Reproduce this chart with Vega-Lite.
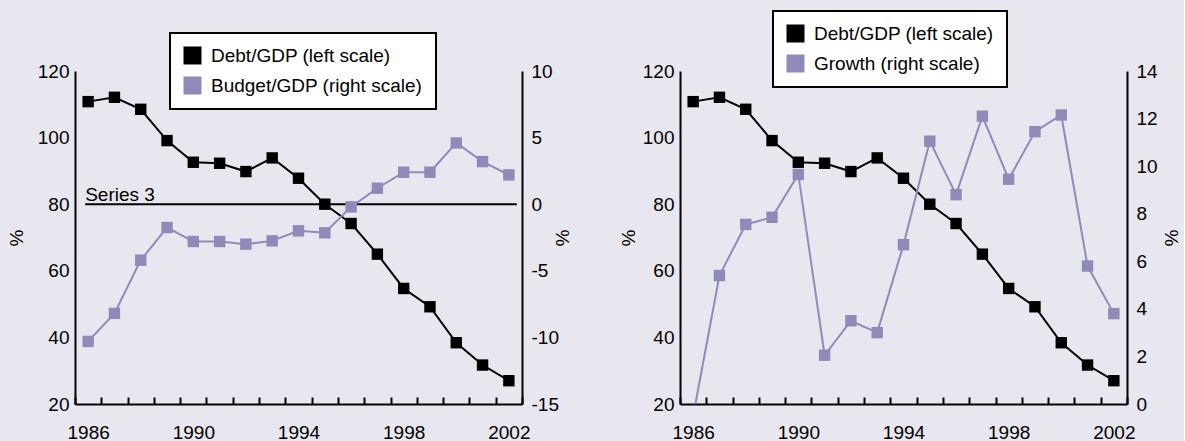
{
  "$schema": "https://vega.github.io/schema/vega-lite/v6.json",
  "background": "#e8e6ee",
  "padding": {"left": 7, "top": 10, "right": 4, "bottom": 0},
  "config": {
    "font": "Liberation Sans",
    "view": {"stroke": null},
    "axis": {
      "labelFont": "Liberation Sans", "labelFontSize": 19, "labelColor": "#000",
      "titleFont": "Liberation Sans", "titleFontSize": 19, "titleFontWeight": "normal", "titleColor": "#000",
      "domainColor": "#000", "domainWidth": 2, "tickColor": "#000", "tickWidth": 2, "grid": false
    },
    "legend": {
      "orient": "none", "title": null, "symbolType": "square", "symbolSize": 324,
      "labelFont": "Liberation Sans", "labelFontSize": 19, "labelColor": "#000", "labelLimit": 400,
      "padding": 13, "rowPadding": 10, "labelOffset": 9,
      "fillColor": "#ffffff", "strokeColor": "#000000", "strokeWidth": 2,
      "symbolStrokeWidth": 0, "symbolOpacity": 1
    }
  },
  "datasets": {
    "d": [
      {"year": 1986, "debt": 110.8, "budget": -10.3, "growth": -0.5},
      {"year": 1987, "debt": 112.1, "budget": -8.2, "growth": 5.4},
      {"year": 1988, "debt": 108.5, "budget": -4.2, "growth": 7.55},
      {"year": 1989, "debt": 99.1, "budget": -1.75, "growth": 7.85},
      {"year": 1990, "debt": 92.6, "budget": -2.8, "growth": 9.65},
      {"year": 1991, "debt": 92.3, "budget": -2.8, "growth": 2.05},
      {"year": 1992, "debt": 89.8, "budget": -3.0, "growth": 3.5},
      {"year": 1993, "debt": 93.9, "budget": -2.75, "growth": 3.0},
      {"year": 1994, "debt": 87.8, "budget": -2.0, "growth": 6.7},
      {"year": 1995, "debt": 80.0, "budget": -2.15, "growth": 11.05},
      {"year": 1996, "debt": 74.2, "budget": -0.2, "growth": 8.8},
      {"year": 1997, "debt": 65.0, "budget": 1.2, "growth": 12.1},
      {"year": 1998, "debt": 54.7, "budget": 2.4, "growth": 9.45},
      {"year": 1999, "debt": 49.2, "budget": 2.4, "growth": 11.45},
      {"year": 2000, "debt": 38.4, "budget": 4.6, "growth": 12.15},
      {"year": 2001, "debt": 31.7, "budget": 3.2, "growth": 5.8},
      {"year": 2002, "debt": 27.0, "budget": 2.2, "growth": 3.8}
    ],
    "one": [{"label": "Series 3"}]
  },
  "spacing": 48,
  "resolve": {"scale": {"color": "independent", "x": "independent", "y": "independent"}, "legend": {"color": "independent"}},
  "hconcat": [
    {
      "width": 447, "height": 333,
      "data": {"name": "d"},
      "encoding": {
        "x": {"field": "year", "type": "ordinal",
          "scale": {"type": "band", "paddingInner": 0, "paddingOuter": 0},
          "axis": {"title": null, "labelAngle": 0, "tickBand": "extent", "tickSize": -7, "labelPadding": 26,
            "labelExpr": "(datum.value - 1986) % 4 == 0 ? datum.label : ''"}}
      },
      "resolve": {"scale": {"y": "independent"}},
      "layer": [
        {
          "layer": [
            {"mark": {"type": "line", "color": "#000000", "strokeWidth": 2},
             "encoding": {"y": {"field": "debt", "type": "quantitative",
               "scale": {"domain": [20, 120], "nice": false, "zero": false},
               "axis": {"title": "%", "orient": "left", "values": [20, 40, 60, 80, 100, 120], "ticks": false, "labelPadding": 6, "titlePadding": 11}}}},
            {"mark": {"type": "point", "shape": "square", "filled": true, "size": 130, "opacity": 1},
             "encoding": {"y": {"field": "debt", "type": "quantitative"},
               "color": {"datum": "Debt/GDP (left scale)", "type": "nominal",
                 "scale": {"domain": ["Debt/GDP (left scale)", "Budget/GDP (right scale)"], "range": ["#000000", "#8f8bb9"]},
                 "legend": {"legendX": 95, "legendY": -38}}}}
          ]
        },
        {
          "layer": [
            {"data": {"name": "one"},
             "mark": {"type": "rule", "color": "#000000", "strokeWidth": 2, "xOffset": -3, "x2Offset": 8},
             "encoding": {"x": {"datum": 1986}, "x2": {"datum": 2002},
               "y": {"datum": 0, "type": "quantitative",
                 "scale": {"domain": [-15, 10], "nice": false, "zero": false},
                 "axis": {"title": "%", "orient": "right", "values": [-15, -10, -5, 0, 5, 10], "ticks": false, "labelPadding": 9, "titlePadding": -7,
                   "labelExpr": "replace(datum.label, '−', '-')"}}}},
            {"data": {"name": "one"},
             "mark": {"type": "text", "align": "left", "baseline": "alphabetic", "dx": -3, "dy": -3, "fontSize": 19, "color": "#000000"},
             "encoding": {"x": {"datum": 1986}, "y": {"datum": 0, "type": "quantitative"}, "text": {"field": "label"}}},
            {"mark": {"type": "line", "color": "#8f8bb9", "strokeWidth": 2},
             "encoding": {"y": {"field": "budget", "type": "quantitative"}}},
            {"mark": {"type": "point", "shape": "square", "filled": true, "size": 130, "opacity": 1},
             "encoding": {"y": {"field": "budget", "type": "quantitative"},
               "color": {"datum": "Budget/GDP (right scale)", "type": "nominal"}}}
          ]
        }
      ]
    },
    {
      "width": 447, "height": 333,
      "data": {"name": "d"},
      "encoding": {
        "x": {"field": "year", "type": "ordinal",
          "scale": {"type": "band", "paddingInner": 0, "paddingOuter": 0},
          "axis": {"title": null, "labelAngle": 0, "tickBand": "extent", "tickSize": -7, "labelPadding": 26,
            "labelExpr": "(datum.value - 1986) % 4 == 0 ? datum.label : ''"}}
      },
      "resolve": {"scale": {"y": "independent"}},
      "layer": [
        {
          "layer": [
            {"mark": {"type": "line", "color": "#000000", "strokeWidth": 2},
             "encoding": {"y": {"field": "debt", "type": "quantitative",
               "scale": {"domain": [20, 120], "nice": false, "zero": false},
               "axis": {"title": "%", "orient": "left", "values": [20, 40, 60, 80, 100, 120], "ticks": false, "labelPadding": 6, "titlePadding": 4}}}},
            {"mark": {"type": "point", "shape": "square", "filled": true, "size": 130, "opacity": 1},
             "encoding": {"y": {"field": "debt", "type": "quantitative"},
               "color": {"datum": "Debt/GDP (left scale)", "type": "nominal",
                 "scale": {"domain": ["Debt/GDP (left scale)", "Growth (right scale)"], "range": ["#000000", "#8f8bb9"]},
                 "legend": {"legendX": 93, "legendY": -60,
                   "labelExpr": "datum.label == 'Growth (right scale)' ? datum.label + '\u00a0\u00a0\u00a0\u00a0\u00a0\u00a0\u00a0' : datum.label"}}}}
          ]
        },
        {
          "layer": [
            {"mark": {"type": "line", "color": "#8f8bb9", "strokeWidth": 2, "clip": true},
             "encoding": {"y": {"field": "growth", "type": "quantitative",
               "scale": {"domain": [0, 14], "nice": false},
               "axis": {"title": "%", "orient": "right", "values": [0, 2, 4, 6, 8, 10, 12, 14], "ticks": false, "labelPadding": 9, "titlePadding": 3}}}},
            {"mark": {"type": "point", "shape": "square", "filled": true, "size": 130, "opacity": 1, "clip": true},
             "encoding": {"y": {"field": "growth", "type": "quantitative"},
               "color": {"datum": "Growth (right scale)", "type": "nominal"}}}
          ]
        }
      ]
    }
  ]
}
